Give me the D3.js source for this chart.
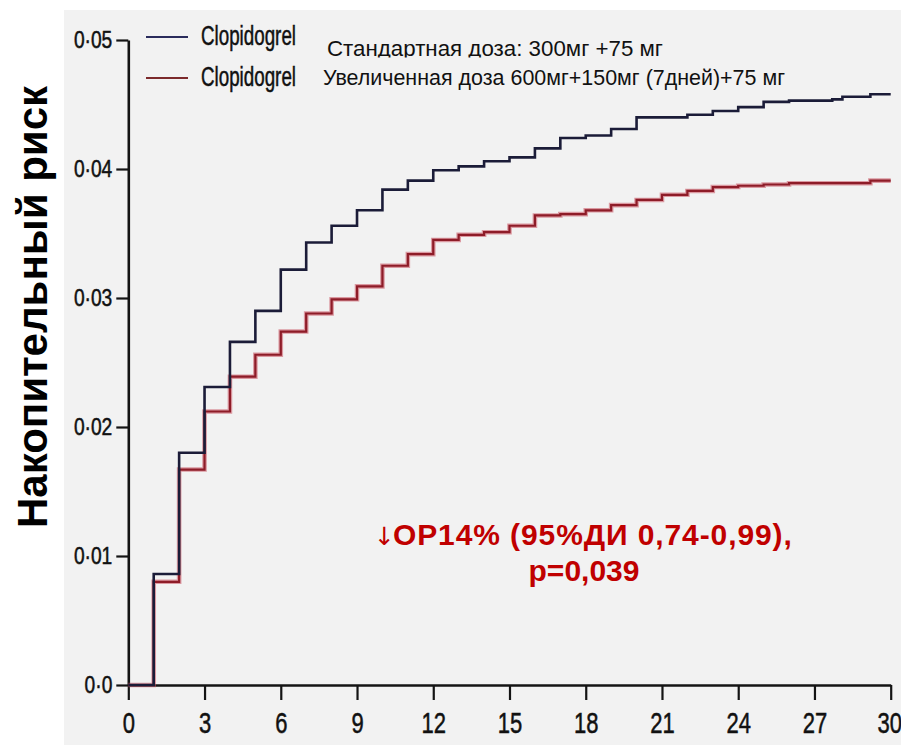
<!DOCTYPE html>
<html>
<head>
<meta charset="utf-8">
<script src="https://cdn.jsdelivr.net/npm/d3@7"></script>
<style>
  html, body { margin: 0; padding: 0; background: #fff; }
  svg { display: block; }
</style>
</head>
<body>
<svg id="chart" width="901" height="745"></svg>
<script>
// Cumulative event risk over 30 days: standard vs. doubled clopidogrel dose
const stdDays  = [0, 1, 2, 3, 4, 5, 6, 7, 8, 9, 10, 11, 12, 13, 14, 15, 16, 17, 18, 19, 20, 22, 23, 24, 25, 26, 27.7, 28.1, 29.2];
const stdRisk  = [0, 0.0086, 0.0180, 0.0231, 0.0266, 0.0290, 0.0322, 0.0343, 0.0356, 0.0368, 0.0384, 0.0391, 0.0399, 0.0402, 0.0406, 0.0409, 0.0416, 0.0424, 0.0426, 0.0431, 0.0440, 0.0442, 0.0445, 0.0448, 0.0452, 0.0453, 0.0454, 0.0456, 0.0458];
const highDays = [0, 1, 2, 3, 4, 5, 6, 7, 8, 9, 10, 11, 12, 13, 14, 15, 16, 17, 18, 19, 20, 21, 22, 23, 24, 25, 26, 29.2];
const highRisk = [0, 0.0080, 0.0167, 0.0212, 0.0239, 0.0256, 0.0274, 0.0288, 0.0299, 0.0309, 0.0325, 0.0334, 0.0345, 0.0349, 0.0351, 0.0356, 0.0364, 0.0365, 0.0368, 0.0372, 0.0376, 0.0380, 0.0383, 0.0386, 0.0387, 0.0388, 0.0389, 0.0391];
const endDay = 30;

const xTicks = [0, 3, 6, 9, 12, 15, 18, 21, 24, 27, 30];
const yTicks = [0, 0.01, 0.02, 0.03, 0.04, 0.05];
const yTickLabels = ["0·0", "0·01", "0·02", "0·03", "0·04", "0·05"];

const seriesNames = ["Clopidogrel", "Clopidogrel"];
const doseLabels = ["Стандартная доза: 300мг +75 мг", "Увеличенная доза 600мг+150мг (7дней)+75 мг"];
const yTitle = "Накопительный риск";
const noteArrow = "↓";
const noteLines = ["ОР14% (95%ДИ 0,74-0,99),", "p=0,039"];

const BLUE = "#1b1c38";
const RED = "#8e1c28";
const RED_HALO = "#c8505e";
const AXIS = "#141414";
const SANS = "'Liberation Sans', Arial, sans-serif";

const svg = d3.select("#chart");

// panel background
svg.append("rect").attr("x", 64).attr("y", 10).attr("width", 837).attr("height", 735).attr("fill", "#f2f2f2");

const x = d3.scaleLinear().domain([0, 30]).range([128.3, 890.7]);
const y = d3.scaleLinear().domain([0, 0.05]).range([685, 40]);

// axes
const xSx = 0.76;
const xAxis = d3.axisBottom(x).tickValues(xTicks).tickSize(15).tickSizeOuter(0).tickPadding(12)
  .tickFormat(d3.format("d"));
const gx = svg.append("g").attr("transform", `translate(0,${y(0)})`).call(xAxis);
gx.select(".domain").attr("stroke", AXIS).attr("stroke-width", 2.6);
gx.selectAll(".tick line").attr("stroke", AXIS).attr("stroke-width", 2.2);
gx.selectAll(".tick text")
  .attr("fill", "#111").attr("stroke", "#111").attr("stroke-width", 0.5)
  .attr("font-family", SANS).attr("font-size", 29)
  .attr("x", d => d === 30 ? -1.5 / xSx : 0)
  .attr("transform", `scale(${xSx},1)`);

const ySx = 0.8;
const yAxis = d3.axisLeft(y).tickValues(yTicks).tickSize(12).tickSizeOuter(0).tickPadding(4)
  .tickFormat((d, i) => yTickLabels[i]);
const gy = svg.append("g").attr("transform", `translate(${x(0)},0)`).call(yAxis);
gy.select(".domain").attr("stroke", AXIS).attr("stroke-width", 2.6);
gy.selectAll(".tick line").attr("stroke", AXIS).attr("stroke-width", 2.2);
gy.selectAll(".tick text")
  .attr("fill", "#111").attr("stroke", "#111").attr("stroke-width", 0.5)
  .attr("font-family", SANS).attr("font-size", 24)
  .attr("x", -16 / ySx)
  .attr("transform", `scale(${ySx},1)`);

// step curves
const stepLine = d3.line().x(d => x(d[0])).y(d => y(d[1])).curve(d3.curveStepAfter);
const toPoints = (days, risk) => {
  const pts = days.map((d, i) => [d, risk[i]]);
  pts.push([endDay, risk[risk.length - 1]]);
  return pts;
};
const highPts = toPoints(highDays, highRisk);
const stdPts = toPoints(stdDays, stdRisk);

svg.append("path").attr("d", stepLine(highPts)).attr("fill", "none")
  .attr("stroke", RED_HALO).attr("stroke-opacity", 0.55).attr("stroke-width", 4.6);
svg.append("path").attr("d", stepLine(highPts)).attr("fill", "none")
  .attr("stroke", RED).attr("stroke-width", 2.2);
svg.append("path").attr("d", stepLine(stdPts)).attr("fill", "none")
  .attr("stroke", BLUE).attr("stroke-width", 2.6);

// legend
const legendColors = ["#2a2c5c", "#7c2a2c"];
const legendY = [37, 78];
seriesNames.forEach((name, i) => {
  svg.append("line").attr("x1", 146).attr("x2", 188).attr("y1", legendY[i]).attr("y2", legendY[i])
    .attr("stroke", legendColors[i]).attr("stroke-width", 2);
  svg.append("text").attr("x", 201).attr("y", legendY[i] + 8)
    .attr("font-family", SANS).attr("font-size", 27).attr("fill", "#111")
    .attr("stroke", "#111").attr("stroke-width", 0.5)
    .attr("textLength", 95).attr("lengthAdjust", "spacingAndGlyphs")
    .text(name);
});

// dose descriptions (the first line sits under the second's box, so its descenders are hidden)
svg.append("clipPath").attr("id", "doseClip")
  .append("rect").attr("x", 300).attr("y", 20).attr("width", 500).attr("height", 37.5);
svg.append("text").attr("x", 327).attr("y", 56).attr("clip-path", "url(#doseClip)")
  .attr("font-family", SANS).attr("font-size", 22).attr("fill", "#111")
  .attr("textLength", 336).attr("lengthAdjust", "spacingAndGlyphs").text(doseLabels[0]);
svg.append("text").attr("x", 323).attr("y", 85)
  .attr("font-family", SANS).attr("font-size", 21.5).attr("fill", "#111")
  .attr("textLength", 462).attr("lengthAdjust", "spacingAndGlyphs").text(doseLabels[1]);

// y title
svg.append("text").attr("transform", "translate(47,307) rotate(-90)")
  .attr("text-anchor", "middle").attr("font-family", SANS).attr("font-weight", "bold")
  .attr("font-size", 42).attr("fill", "#000").text(yTitle);

// hazard ratio note
const note1 = svg.append("text").attr("x", 374).attr("y", 545)
  .attr("font-family", SANS).attr("font-weight", "bold").attr("font-size", 30)
  .attr("fill", "#c00000");
note1.append("tspan").attr("font-family", "'DejaVu Sans', sans-serif").attr("font-size", 25)
  .attr("font-weight", "normal").text(noteArrow);
note1.append("tspan").attr("dx", -2).attr("letter-spacing", 0.9).text(noteLines[0]);
svg.append("text").attr("x", 584).attr("y", 581).attr("text-anchor", "middle")
  .attr("font-family", SANS).attr("font-weight", "bold").attr("font-size", 30)
  .attr("fill", "#c00000").text(noteLines[1]);
</script>
</body>
</html>
